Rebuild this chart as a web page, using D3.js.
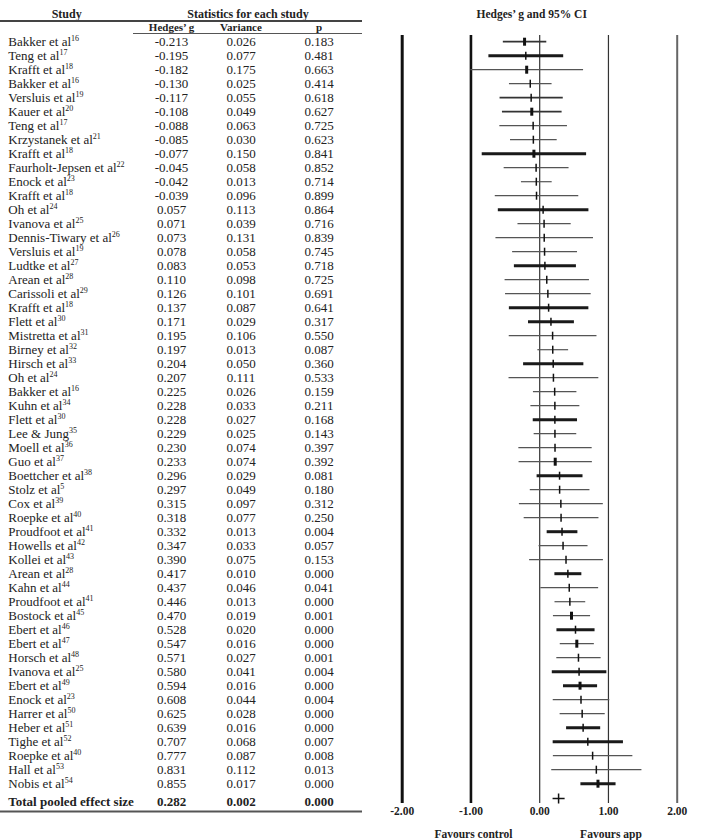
<!DOCTYPE html>
<html>
<head>
<meta charset="utf-8">
<script src="https://cdn.jsdelivr.net/npm/d3@7"></script>
<style>
  body { margin: 0; background: #fff; }
  svg text { font-family: "Liberation Serif", "Times New Roman", serif; fill: #222; }
  .hdr { font-weight: bold; }
</style>
</head>
<body>
<div id="plot"></div>
<script>
// studies, top to bottom
var studies = ["Bakker et al", "Teng et al", "Krafft et al", "Bakker et al", "Versluis et al", "Kauer et al",
  "Teng et al", "Krzystanek et al", "Krafft et al", "Faurholt-Jepsen et al", "Enock et al", "Krafft et al",
  "Oh et al", "Ivanova et al", "Dennis-Tiwary et al", "Versluis et al", "Ludtke et al", "Arean et al",
  "Carissoli et al", "Krafft et al", "Flett et al", "Mistretta et al", "Birney et al", "Hirsch et al",
  "Oh et al", "Bakker et al", "Kuhn et al", "Flett et al", "Lee & Jung", "Moell et al", "Guo et al",
  "Boettcher et al", "Stolz et al", "Cox et al", "Roepke et al", "Proudfoot et al", "Howells et al",
  "Kollei et al", "Arean et al", "Kahn et al", "Proudfoot et al", "Bostock et al", "Ebert et al",
  "Ebert et al", "Horsch et al", "Ivanova et al", "Ebert et al", "Enock et al", "Harrer et al",
  "Heber et al", "Tighe et al", "Roepke et al", "Hall et al", "Nobis et al"];
var refs = [16, 17, 18, 16, 19, 20, 17, 21, 18, 22, 23, 18, 24, 25, 26, 19, 27, 28, 29, 18, 30, 31, 32, 33,
  24, 16, 34, 30, 35, 36, 37, 38, 5, 39, 40, 41, 42, 43, 28, 44, 41, 45, 46, 47, 48, 25, 49, 23, 50, 51,
  52, 40, 53, 54];
var hedgesG = [-0.213, -0.195, -0.182, -0.130, -0.117, -0.108, -0.088, -0.085, -0.077, -0.045, -0.042, -0.039,
  0.057, 0.071, 0.073, 0.078, 0.083, 0.110, 0.126, 0.137, 0.171, 0.195, 0.197, 0.204, 0.207, 0.225, 0.228,
  0.228, 0.229, 0.230, 0.233, 0.296, 0.297, 0.315, 0.318, 0.332, 0.347, 0.390, 0.417, 0.437, 0.446, 0.470,
  0.528, 0.547, 0.571, 0.580, 0.594, 0.608, 0.625, 0.639, 0.707, 0.777, 0.831, 0.855];
var variance = [0.026, 0.077, 0.175, 0.025, 0.055, 0.049, 0.063, 0.030, 0.150, 0.058, 0.013, 0.096,
  0.113, 0.039, 0.131, 0.058, 0.053, 0.098, 0.101, 0.087, 0.029, 0.106, 0.013, 0.050, 0.111, 0.026, 0.033,
  0.027, 0.025, 0.074, 0.074, 0.029, 0.049, 0.097, 0.077, 0.013, 0.033, 0.075, 0.010, 0.046, 0.013, 0.019,
  0.020, 0.016, 0.027, 0.041, 0.016, 0.044, 0.028, 0.016, 0.068, 0.087, 0.112, 0.017];
var pValues = [0.183, 0.481, 0.663, 0.414, 0.618, 0.627, 0.725, 0.623, 0.841, 0.852, 0.714, 0.899,
  0.864, 0.716, 0.839, 0.745, 0.718, 0.725, 0.691, 0.641, 0.317, 0.550, 0.087, 0.360, 0.533, 0.159, 0.211,
  0.168, 0.143, 0.397, 0.392, 0.081, 0.180, 0.312, 0.250, 0.004, 0.057, 0.153, 0.000, 0.041, 0.000, 0.001,
  0.000, 0.000, 0.001, 0.004, 0.000, 0.004, 0.000, 0.000, 0.007, 0.008, 0.013, 0.000];
var pooledLabel = "Total pooled effect size";
var pooledG = 0.282, pooledVar = 0.002, pooledP = 0.000;
var xTicks = [-2, -1, 0, 1, 2];
var sideLabels = [{ text: "Favours control", at: -1 }, { text: "Favours app", at: 1 }];

// line look of the CI rows, as in the printed figure
var heavyRows = [2, 9, 13, 17, 20, 21, 24, 28, 32, 36, 39, 43, 46, 47, 50, 51, 54];
var mediumRows = [1, 5, 6];
var heavyMarks = [1, 3, 6, 9, 31, 42, 44, 47, 54];

var svgWidth = 709;
var svgHeight = 840;

var svg = d3.select("#plot")
    .append("svg")
    .attr("width", svgWidth)
    .attr("height", svgHeight);

var rows = studies.map(function(s, i) {
    var se = Math.sqrt(variance[i]);
    return { i: i, name: s, ref: refs[i], g: hedgesG[i], v: variance[i], p: pValues[i],
             lo: hedgesG[i] - 1.96 * se, hi: hedgesG[i] + 1.96 * se };
});

var yScale = d3.scalePoint()
    .domain(d3.range(studies.length))
    .range([41.7, 783.7]);
var pooledY = 798.5;
var plotTop = 35, plotBottom = 803;

var xScale = d3.scaleLinear()
    .domain([-2, 2])
    .range([401.7, 676.7]);

// plain hyphen for negatives, like the printed table
var fmt = d => d.toFixed(3);

// ---- table ----
var table = svg.append("g");

table.append("text").attr("class", "hdr").attr("x", 66.7).attr("y", 18)
    .attr("text-anchor", "middle").style("font-size", "12px").text("Study");
table.append("text").attr("class", "hdr").attr("x", 248).attr("y", 18)
    .attr("text-anchor", "middle").style("font-size", "12px").text("Statistics for each study");
table.append("line").attr("x1", 0).attr("x2", 362).attr("y1", 21).attr("y2", 21)
    .attr("stroke", "#444").attr("stroke-width", 1.8);

var cols = [{ t: "Hedges\u2019 g", x: 171.5 }, { t: "Variance", x: 241 }, { t: "p", x: 319 }];
table.selectAll(".sub").data(cols).enter().append("text")
    .attr("class", "hdr sub")
    .attr("x", d => d.x).attr("y", 31)
    .attr("text-anchor", "middle").style("font-size", "11px")
    .text(d => d.t);
table.append("line").attr("x1", 133).attr("x2", 362).attr("y1", 33.5).attr("y2", 33.5)
    .attr("stroke", "#555").attr("stroke-width", 1);

var rowText = table.selectAll(".row").data(rows).enter().append("g")
    .attr("class", "row")
    .attr("transform", d => `translate(0, ${yScale(d.i)})`)
    .style("font-size", "13px");

var nameText = rowText.append("text").attr("x", 8.3).attr("dy", "0.35em");
nameText.append("tspan").text(d => d.name);
nameText.append("tspan").attr("dy", -5).style("font-size", "8px").text(d => d.ref);

rowText.append("text").attr("x", 171.5).attr("dy", "0.35em").attr("text-anchor", "middle").text(d => fmt(d.g));
rowText.append("text").attr("x", 241).attr("dy", "0.35em").attr("text-anchor", "middle").text(d => fmt(d.v));
rowText.append("text").attr("x", 319).attr("dy", "0.35em").attr("text-anchor", "middle").text(d => fmt(d.p));

var total = table.append("g").attr("transform", "translate(0, 801.7)")
    .attr("class", "hdr").style("font-size", "13px");
total.append("text").attr("x", 8.3).attr("dy", "0.35em").text(pooledLabel);
total.append("text").attr("x", 171.5).attr("dy", "0.35em").attr("text-anchor", "middle").text(fmt(pooledG));
total.append("text").attr("x", 241).attr("dy", "0.35em").attr("text-anchor", "middle").text(fmt(pooledVar));
total.append("text").attr("x", 319).attr("dy", "0.35em").attr("text-anchor", "middle").text(fmt(pooledP));

table.append("line").attr("x1", 0).attr("x2", 362).attr("y1", 811.5).attr("y2", 811.5)
    .attr("stroke", "#555").attr("stroke-width", 1.8);

// ---- forest plot ----
svg.append("text").attr("class", "hdr").attr("x", 531.7).attr("y", 18)
    .attr("text-anchor", "middle").style("font-size", "11.5px").text("Hedges\u2019 g and 95% CI");

var tickStyle = { "-2": [3, "#111"], "-1": [2.6, "#111"], "0": [1.2, "#333"], "1": [1.2, "#333"], "2": [2, "#666"] };

var xAxis = svg.append("g")
    .attr("transform", `translate(0, ${plotBottom})`)
    .call(d3.axisBottom(xScale)
        .tickValues(xTicks)
        .tickSize(-(plotBottom - plotTop))
        .tickPadding(4)
        .tickFormat(d => d.toFixed(2)));
xAxis.select(".domain").remove();
xAxis.selectAll(".tick line")
    .attr("stroke-width", d => tickStyle[d][0])
    .attr("stroke", d => tickStyle[d][1]);
xAxis.selectAll(".tick text")
    .attr("class", "hdr")
    .style("font-size", "11.5px")
    .attr("fill", "#222");

svg.selectAll(".side").data(sideLabels).enter().append("text")
    .attr("class", "hdr side")
    .attr("x", d => xScale(d.at) + 3)
    .attr("y", 838)
    .attr("text-anchor", "middle")
    .style("font-size", "11.5px")
    .text(d => d.text);

var ci = svg.append("g");

ci.selectAll(".ci").data(rows).enter().append("line")
    .attr("class", "ci")
    .attr("x1", d => xScale(d.lo))
    .attr("x2", d => xScale(d.hi))
    .attr("y1", d => yScale(d.i))
    .attr("y2", d => yScale(d.i))
    .attr("stroke", d => heavyRows.includes(d.i + 1) ? "#1a1a1a" : mediumRows.includes(d.i + 1) ? "#333" : "#555")
    .attr("stroke-width", d => heavyRows.includes(d.i + 1) ? 3 : mediumRows.includes(d.i + 1) ? 1.8 : 1.2);

ci.selectAll(".mark").data(rows).enter().append("line")
    .attr("class", "mark")
    .attr("x1", d => xScale(d.g))
    .attr("x2", d => xScale(d.g))
    .attr("y1", d => yScale(d.i) - 4)
    .attr("y2", d => yScale(d.i) + 4)
    .attr("stroke", "#111")
    .attr("stroke-width", d => heavyMarks.includes(d.i + 1) ? 3 : 1.5);

// pooled estimate
var pse = Math.sqrt(pooledVar);
ci.append("line")
    .attr("x1", xScale(pooledG - 1.96 * pse)).attr("x2", xScale(pooledG + 1.96 * pse))
    .attr("y1", pooledY).attr("y2", pooledY)
    .attr("stroke", "#111").attr("stroke-width", 1.5);
ci.append("line")
    .attr("x1", xScale(pooledG)).attr("x2", xScale(pooledG))
    .attr("y1", pooledY - 5).attr("y2", pooledY + 5)
    .attr("stroke", "#111").attr("stroke-width", 1.5);
</script>
</body>
</html>
